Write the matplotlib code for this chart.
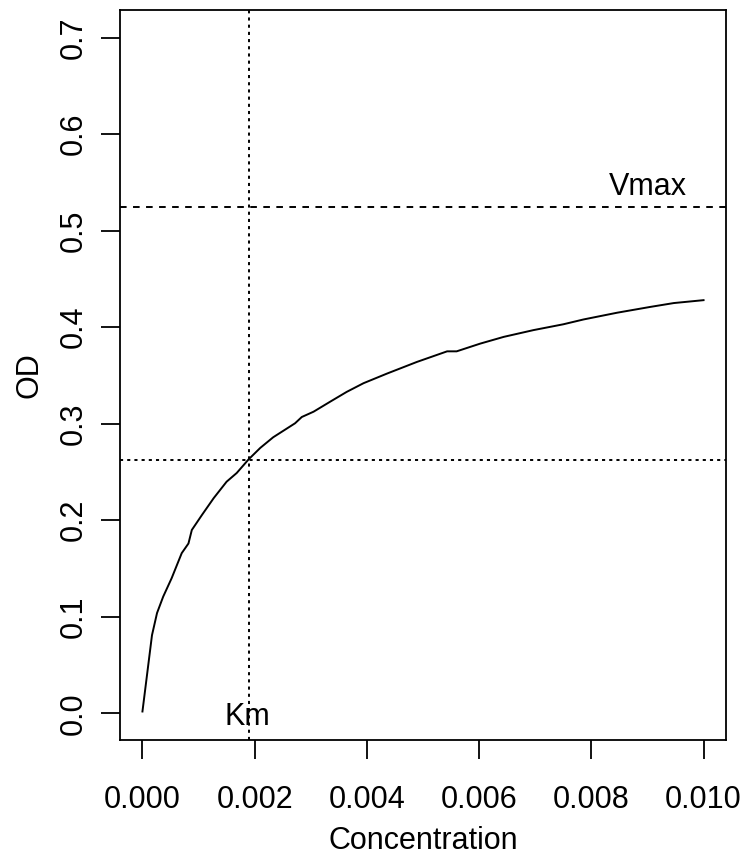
import matplotlib
matplotlib.use("Agg")
import matplotlib.pyplot as plt

plt.rcParams['font.family'] = ['Liberation Sans', 'DejaVu Sans']

# Substrate concentration vs optical density
concentration = [0.0, 0.00017, 0.00026, 0.00037, 0.00052, 0.0007, 0.00082, 0.00088,
                 0.00106, 0.00127, 0.0015, 0.00168, 0.00189, 0.0021, 0.00233, 0.00272,
                 0.00284, 0.00305, 0.00335, 0.00364, 0.00394, 0.00436, 0.00489, 0.00543,
                 0.0056, 0.00602, 0.00644, 0.00697, 0.0075, 0.00786, 0.00846, 0.00905,
                 0.00947, 0.0100]
od = [0.002, 0.081, 0.104, 0.121, 0.140, 0.166, 0.176, 0.190,
      0.2055, 0.223, 0.240, 0.249, 0.263, 0.275, 0.286, 0.3005,
      0.307, 0.3125, 0.323, 0.333, 0.342, 0.352, 0.364, 0.375,
      0.375, 0.383, 0.390, 0.397, 0.403, 0.408, 0.415, 0.421,
      0.425, 0.428]

vmax = 0.524
km = 0.0019

x_ticks = [0.000, 0.002, 0.004, 0.006, 0.008, 0.010]
x_labels = ["0.000", "0.002", "0.004", "0.006", "0.008", "0.010"]
y_ticks = [0.0, 0.1, 0.2, 0.3, 0.4, 0.5, 0.6, 0.7]
y_labels = ["0.0", "0.1", "0.2", "0.3", "0.4", "0.5", "0.6", "0.7"]

W, H = 746, 857
fig = plt.figure(figsize=(W / 100, H / 100), dpi=100)
left, right, top, bottom = 120, 726, 10, 739.5
ax = fig.add_axes([left / W, 1 - bottom / H, (right - left) / W, (bottom - top) / H])

lw = 1.4
ax.plot(concentration, od, color='black', lw=lw, solid_joinstyle='round')
ax.axhline(vmax, color='black', lw=lw, linestyle=(0, (3.4, 3.3)))
ax.axhline(vmax / 2, color='black', lw=lw, linestyle=(0, (1.6, 2.1)))
ax.axvline(km, color='black', lw=lw, linestyle=(0, (1.6, 2.1)))

fs = 22
ax.text(0.009, vmax + 0.021, "Vmax", fontsize=fs, ha='center', va='center')
ax.text(km - 0.00003, -0.0033, "Km", fontsize=fs, ha='center', va='center')

ax.set_xlim(-0.0004, 0.0104)
ax.set_ylim(-0.027, 0.7285)

ax.set_xticks(x_ticks)
ax.set_xticklabels(x_labels)
ax.set_yticks(y_ticks)
ax.set_yticklabels(y_labels, rotation=90, va='center')

ax.tick_params(axis='both', direction='out', length=13.5, width=1.3, labelsize=fs)
ax.tick_params(axis='x', pad=19.5)
ax.tick_params(axis='y', pad=9)

for s in ax.spines.values():
    s.set_linewidth(1.3)

ax.set_xlabel("Concentration", fontsize=fs, labelpad=8)
ax.set_ylabel("OD", fontsize=fs, labelpad=10)

fig.savefig("out.png", dpi=100)
